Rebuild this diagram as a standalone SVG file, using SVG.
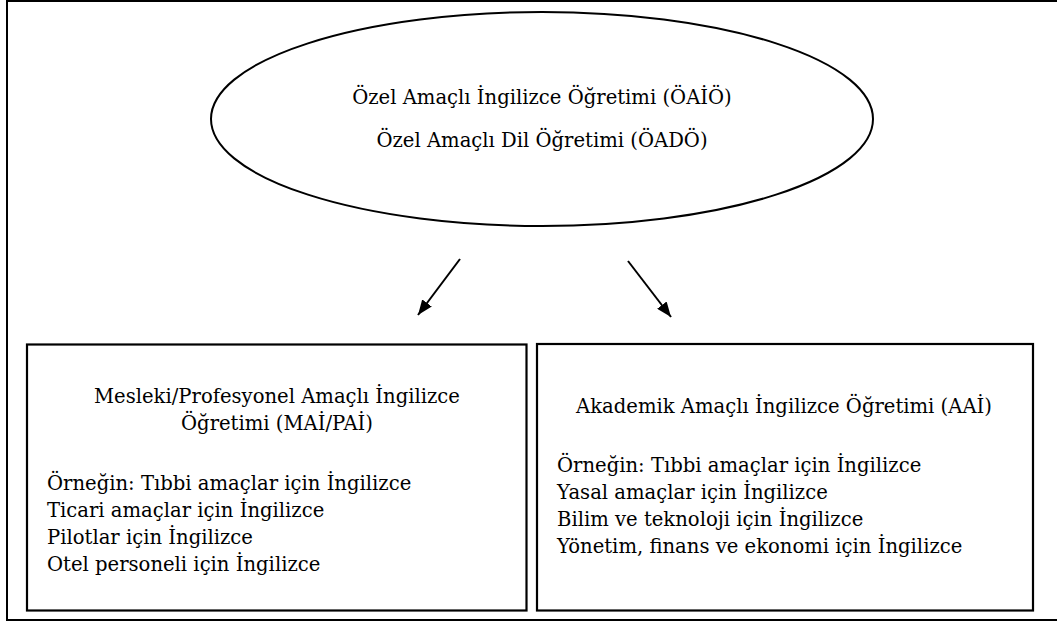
<svg xmlns="http://www.w3.org/2000/svg" width="1057" height="622" viewBox="0 0 1057 622">
<style>
.frame{fill:none;stroke:#000;stroke-width:2}
.box{fill:#fff;stroke:#000;stroke-width:2.2}
.ell{fill:#fff;stroke:#000;stroke-width:2}
.t{font-family:"DejaVu Serif","Liberation Serif",serif;font-size:19.6px;fill:#000}
.arr{stroke:#000;stroke-width:2;fill:none}
</style>
<defs>
<marker id="ah" viewBox="0 0 10 8" refX="10" refY="4" markerWidth="7.5" markerHeight="6" markerUnits="strokeWidth" orient="auto">
<path d="M0,0 L10,4 L0,8 z" fill="#000"/>
</marker>
</defs>
<rect width="1057" height="622" fill="#fff"/>
<path class="frame" d="M1057,1 L7,1 L7,620 L1057,620"/>
<g id="top">
<ellipse class="ell" cx="542" cy="119" rx="331" ry="107"/>
<text class="t" x="542" y="104" text-anchor="middle">Özel Amaçlı İngilizce Öğretimi (ÖAİÖ)</text>
<text class="t" x="542" y="147" text-anchor="middle">Özel Amaçlı Dil Öğretimi (ÖADÖ)</text>
</g>
<g id="connectors">
<line class="arr" x1="460" y1="259" x2="418" y2="315" marker-end="url(#ah)"/>
<line class="arr" x1="628" y1="261" x2="671" y2="317" marker-end="url(#ah)"/>
</g>
<g id="left">
<rect class="box" x="27" y="344.5" width="499.5" height="266"/>
<text class="t" x="277" y="403" text-anchor="middle">Mesleki/Profesyonel Amaçlı İngilizce</text>
<text class="t" x="277" y="430" text-anchor="middle">Öğretimi (MAİ/PAİ)</text>
<text class="t" x="47" y="490">Örneğin: Tıbbi amaçlar için İngilizce</text>
<text class="t" x="47" y="517">Ticari amaçlar için İngilizce</text>
<text class="t" x="47" y="544">Pilotlar için İngilizce</text>
<text class="t" x="47" y="571">Otel personeli için İngilizce</text>
</g>
<g id="right">
<rect class="box" x="537" y="344" width="496" height="266.5"/>
<text class="t" x="784" y="413" text-anchor="middle">Akademik Amaçlı İngilizce Öğretimi (AAİ)</text>
<text class="t" x="557" y="472">Örneğin: Tıbbi amaçlar için İngilizce</text>
<text class="t" x="557" y="499">Yasal amaçlar için İngilizce</text>
<text class="t" x="557" y="526">Bilim ve teknoloji için İngilizce</text>
<text class="t" x="557" y="553">Yönetim, finans ve ekonomi için İngilizce</text>
</g>
</svg>
